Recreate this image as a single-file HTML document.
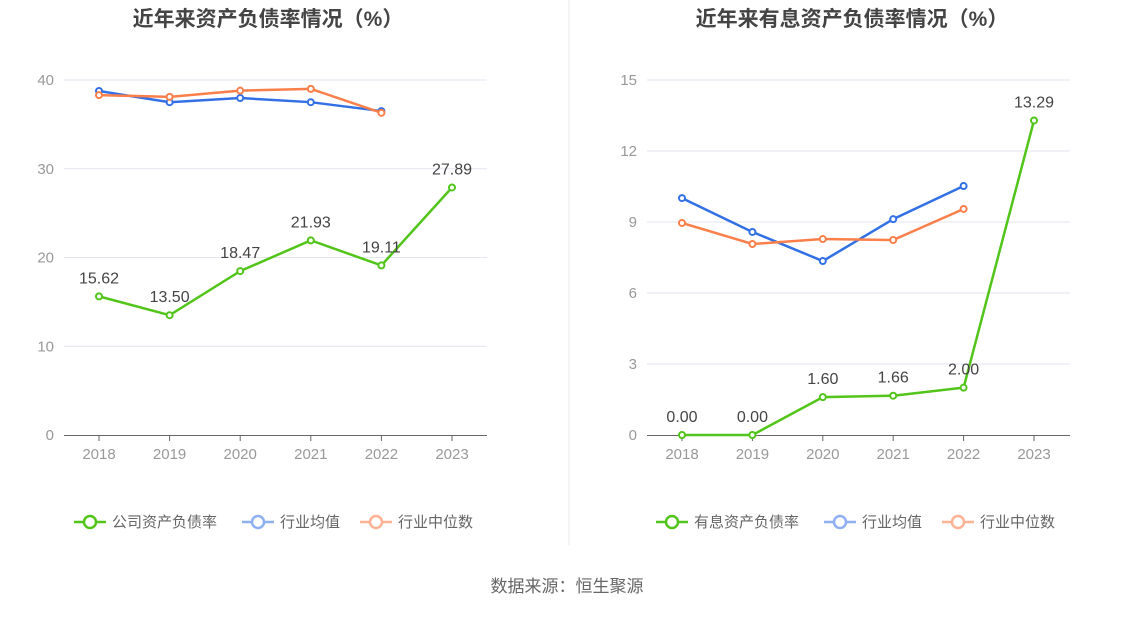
<!DOCTYPE html>
<html><head><meta charset="utf-8">
<style>
body{margin:0;background:#fff;width:1134px;height:612px;overflow:hidden;font-family:"Liberation Sans","Noto Sans CJK SC",sans-serif;}
svg text{font-family:"Liberation Sans","Noto Sans CJK SC",sans-serif;}
</style></head>
<body>
<svg id="c" width="1134" height="612">
<line x1="569" y1="0" x2="569" y2="545" stroke="#e8e8e8"/>
<text x="567" y="592" text-anchor="middle" font-size="17" fill="#666">数据来源：恒生聚源</text>
</svg>
<script>
const years=["2018","2019","2020","2021","2022","2023"];
const leftCompany=[15.62,13.50,18.47,21.93,19.11,27.89];
const leftAvg=[38.76,37.5,37.97,37.5,36.5];
const leftMedian=[38.3,38.1,38.8,39.0,36.3];
const leftTicks=[0,10,20,30,40];
const rightCompany=[0.00,0.00,1.60,1.66,2.00,13.29];
const rightAvg=[10.01,8.58,7.35,9.12,10.52];
const rightMedian=[8.96,8.07,8.28,8.24,9.55];
const rightTicks=[0,3,6,9,12,15];

const svg=document.getElementById('c');
const NS='http://www.w3.org/2000/svg';
function mk(tag,attrs,parent){const e=document.createElementNS(NS,tag);for(const k in attrs)e.setAttribute(k,attrs[k]);(parent||svg).appendChild(e);return e;}

function panel(p){
  const g=mk('g',{});
  
  
  const y=v=>435-(v/p.max)*355;
  const x=i=>p.x0+i*p.step;
  const t=mk('text',{x:p.cx,y:26,'text-anchor':'middle','font-size':21,'font-weight':'bold',fill:'#444'},g);
  t.textContent=p.title;
  
  
  p.ticks.forEach(v=>{
    if(v>0){const l=mk('line',{x1:p.ax0,x2:p.ax1,y1:y(v),y2:y(v),stroke:'#e3e6ef'},g);
      
      }
    const tt=mk('text',{x:p.ax0-10,y:y(v)+5,'text-anchor':'end','font-size':15,fill:'#999'},g);
    tt.textContent=v;
    
    
  });
  const ax=mk('line',{x1:p.ax0,x2:p.ax1,y1:435.5,y2:435.5,stroke:'#666'},g);
  
  
  years.forEach((yr,i)=>{
    mk('line',{x1:x(i),x2:x(i),y1:436,y2:441,stroke:'#666'},g);
    const tt=mk('text',{x:x(i),y:459,'text-anchor':'middle','font-size':15,fill:'#999'},g);
    tt.textContent=yr;
    
    
  });
  const series=[[p.avg,'#3370e6','avg'],[p.med,'#fa7f4a','median'],[p.comp,'#52c41a','company']];
  series.forEach(([d,c,n])=>{
    const pl=mk('polyline',{points:d.map((v,i)=>x(i)+','+y(v)).join(' '),fill:'none',stroke:c,'stroke-width':2.5},g);
    
    
    d.forEach((v,i)=>{
      const pt=mk('circle',{cx:x(i),cy:y(v),r:3,fill:'#fff',stroke:c,'stroke-width':2},g);
      
      
    });
  });
  p.comp.forEach((v,i)=>{
    const lt=mk('text',{x:x(i),y:y(v)-13,'text-anchor':'middle','font-size':16,fill:'#444'},g);
    lt.textContent=v.toFixed(2);
    
    
  });
  const leg=[[p.compName,'#52c41a',p.lx],['行业均值','#8fb0f0',p.lx+168],['行业中位数','#fcb395',p.lx+286]];
  leg.forEach(([n,c,lx])=>{
    const lg=mk('g',{},g);
    
    
    mk('line',{x1:lx,x2:lx+32,y1:522,y2:522,stroke:c,'stroke-width':2.5},lg);
    mk('circle',{cx:lx+16,cy:522,r:6,fill:'#fff',stroke:c,'stroke-width':2.5},lg);
    const lt=mk('text',{x:lx+38,y:527,'font-size':15,fill:'#666'},lg);
    lt.textContent=n;
  });
}
panel({id:'left',title:'近年来资产负债率情况（%）',cx:268,x0:99,step:70.6,ax0:64,ax1:487,max:40,ticks:leftTicks,comp:leftCompany,avg:leftAvg,med:leftMedian,compName:'公司资产负债率',lx:74});
panel({id:'right',title:'近年来有息资产负债率情况（%）',cx:852,x0:682,step:70.4,ax0:647,ax1:1070,max:15,ticks:rightTicks,comp:rightCompany,avg:rightAvg,med:rightMedian,compName:'有息资产负债率',lx:656});
</script>
</body></html>
